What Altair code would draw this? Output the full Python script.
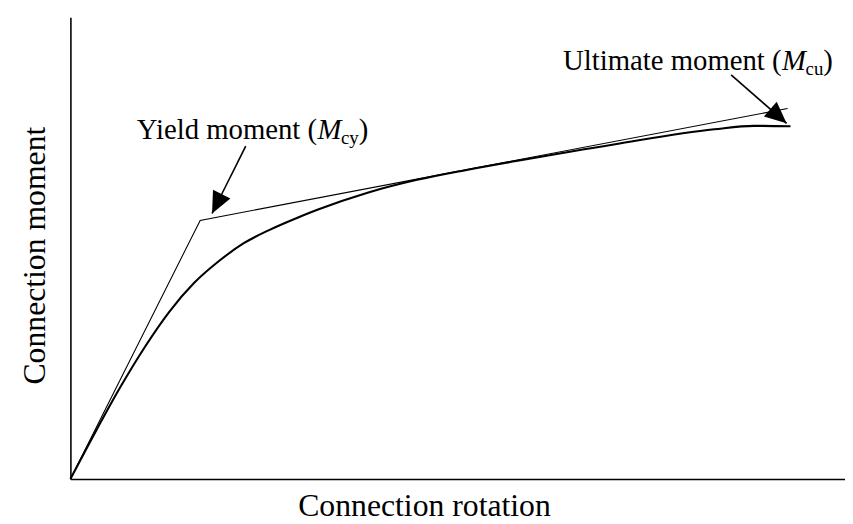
import math
import altair as alt
import pandas as pd

# --- data (arbitrary units) ---
curve_x = [0, 25, 50, 75, 100, 125, 150, 175, 200, 225, 250, 300, 350, 400, 450, 550, 650, 690, 727]
curve_y = [0, 47, 92, 133, 169, 198, 220, 238, 251, 262, 272, 289, 302, 312, 321, 338, 353, 356.5, 356]

bilin_x = [0, 131, 724]
bilin_y = [0, 261, 374]

arrow_name = ["yield", "ultimate"]
arrow_x0 = [177, 667]
arrow_y0 = [336, 408]
arrow_x1 = [143, 723]
arrow_y1 = [268, 359]

label_main = ["Yield moment (", "Ultimate moment ("]
label_sym = ["M", "M"]
label_sub = ["cy", "cu"]
label_x = [249, 718]
label_y = [343, 413]

X_MAX, Y_MAX = 782, 466
W, H = 782, 466
FS = 29
FS_SUB = 19
FONT = "Liberation Serif"

curve = pd.DataFrame({"x": curve_x, "y": curve_y})
bilin = pd.DataFrame({"x": bilin_x, "y": bilin_y})
arrows = pd.DataFrame({"name": arrow_name, "x0": arrow_x0, "y0": arrow_y0,
                       "x1": arrow_x1, "y1": arrow_y1})
arrows["angle"] = [
    (math.degrees(math.atan2(x1 - x0, y1 - y0)) + 360) % 360
    for x0, y0, x1, y1 in zip(arrow_x0, arrow_y0, arrow_x1, arrow_y1)
]
labels = pd.DataFrame({"main": label_main, "sym": label_sym, "sub": label_sub,
                       "x": label_x, "y": label_y})

xs = alt.Scale(domain=[0, X_MAX], nice=False)
ys = alt.Scale(domain=[0, Y_MAX], nice=False)

xaxis = alt.Axis(title="Connection rotation", labels=False, ticks=False, grid=False,
                 domainColor="black", domainWidth=1.6, titleFont=FONT, titleFontSize=32,
                 titleFontWeight="normal", titleColor="black", titleX=357, titleY=37,
                 titleAlign="center", titleBaseline="alphabetic")
yaxis = alt.Axis(title="Connection moment", labels=False, ticks=False, grid=False,
                 domainColor="black", domainWidth=1.6, titleFont=FONT, titleFontSize=32,
                 titleFontWeight="normal", titleColor="black", titleX=-26, titleY=240,
                 titleAngle=270, titleAlign="center", titleBaseline="alphabetic")

base_curve = alt.Chart(curve).mark_line(color="black", strokeWidth=2.1,
                                        interpolate="monotone").encode(
    x=alt.X("x:Q", scale=xs, axis=xaxis),
    y=alt.Y("y:Q", scale=ys, axis=yaxis),
)

bilinear = alt.Chart(bilin).mark_line(color="black", strokeWidth=1.1).encode(
    x=alt.X("x:Q", scale=xs), y=alt.Y("y:Q", scale=ys))

shafts = alt.Chart(arrows).mark_rule(color="black", strokeWidth=1.6).encode(
    x=alt.X("x0:Q", scale=xs), y=alt.Y("y0:Q", scale=ys),
    x2="x1:Q", y2="y1:Q")

heads = alt.Chart(arrows).mark_point(
    shape="M0,0L-0.45,1L0.45,1Z", filled=True, color="black", opacity=1,
    size=1900, strokeWidth=0).encode(
    x=alt.X("x1:Q", scale=xs), y=alt.Y("y1:Q", scale=ys),
    angle=alt.Angle("angle:Q", scale=None))

w_M = 0.833 * FS
w_sub = (0.444 + 0.5) * FS_SUB

t_main = alt.Chart(labels).mark_text(font=FONT, fontSize=FS, align="right",
                                     baseline="alphabetic", color="black").encode(
    x=alt.X("x:Q", scale=xs), y=alt.Y("y:Q", scale=ys), text="main:N")
t_sym = alt.Chart(labels).mark_text(font=FONT, fontSize=FS, fontStyle="italic",
                                    align="left", baseline="alphabetic", color="black",
                                    dx=0.5).encode(
    x=alt.X("x:Q", scale=xs), y=alt.Y("y:Q", scale=ys), text="sym:N")
t_sub = alt.Chart(labels).mark_text(font=FONT, fontSize=FS_SUB, align="left",
                                    baseline="alphabetic", color="black",
                                    dx=w_M, dy=5).encode(
    x=alt.X("x:Q", scale=xs), y=alt.Y("y:Q", scale=ys), text="sub:N")
t_close = alt.Chart(labels).mark_text(font=FONT, fontSize=FS, align="left",
                                      baseline="alphabetic", color="black",
                                      dx=w_M + w_sub).encode(
    x=alt.X("x:Q", scale=xs), y=alt.Y("y:Q", scale=ys), text=alt.value(")"))

chart = alt.layer(base_curve, bilinear, shafts, heads, t_main, t_sym, t_sub, t_close).properties(
    width=W, height=H,
    autosize=alt.AutoSizeParams(type="none"),
    padding={"left": 63, "top": 7, "right": 0, "bottom": 43},
    background="white",
).configure_view(stroke=None)

chart.save("out.html", embed_options={"renderer": "svg", "actions": False})
